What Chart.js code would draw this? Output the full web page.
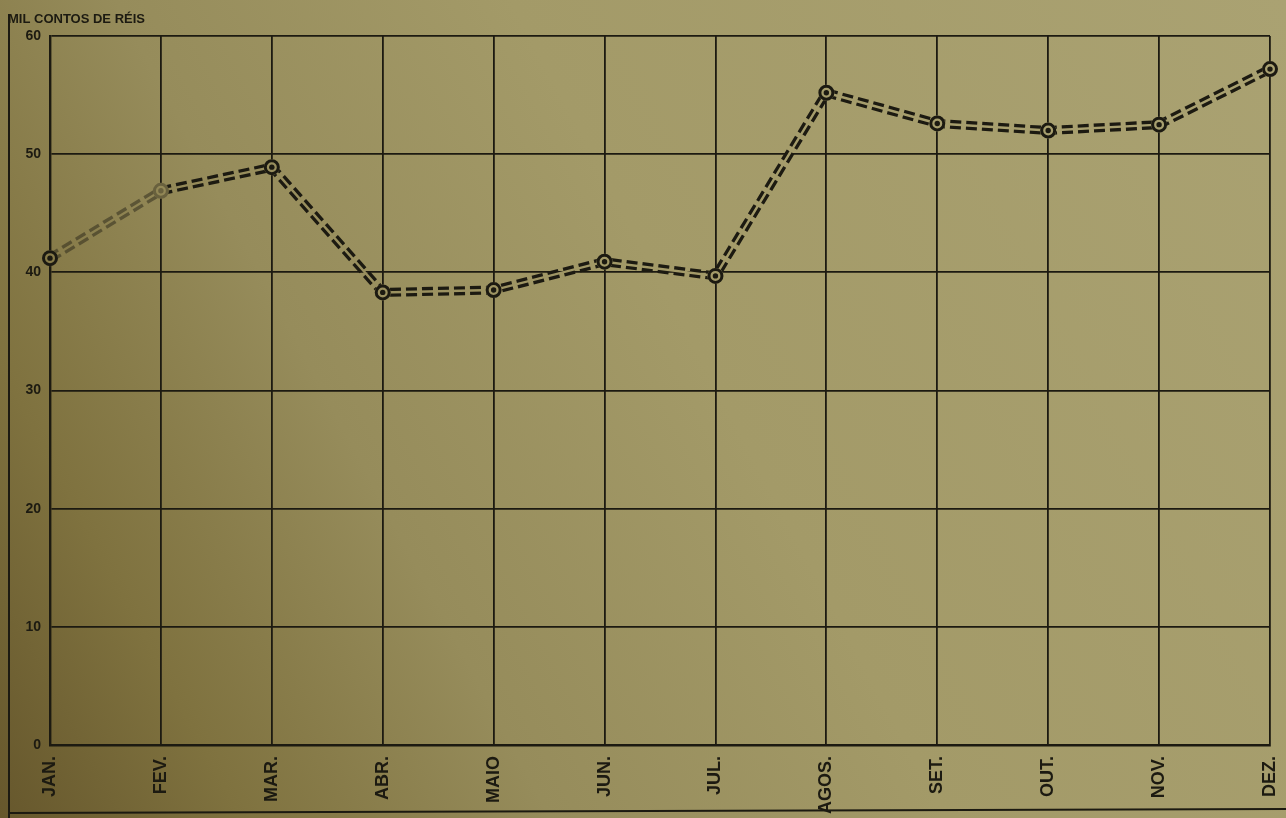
<!DOCTYPE html>
<html>
<head>
<meta charset="utf-8">
<script src="https://cdn.jsdelivr.net/npm/chart.js@4/dist/chart.umd.min.js"></script>
<style>
  html, body { margin: 0; padding: 0; }
  body {
    width: 1286px;
    height: 818px;
    overflow: hidden;
    background: linear-gradient(62deg, #66572c 0%, #7f723f 14%, #968c5b 32%, #a39a68 55%, #aaa272 100%);
  }
  canvas { display: block; }
</style>
</head>
<body>
<canvas id="chart" width="1286" height="818"></canvas>
<script>
// receita mensal, em mil contos de réis
const meses = ["JAN.", "FEV.", "MAR.", "ABR.", "MAIO", "JUN.", "JUL.", "AGOS.", "SET.", "OUT.", "NOV.", "DEZ."];
const receita = [41.2, 46.9, 48.9, 38.3, 38.5, 40.9, 39.7, 55.2, 52.6, 52.0, 52.5, 57.2];
const escalaY = { min: 0, max: 60, passo: 10 };
const unidade = "MIL CONTOS DE RÉIS";

const ink = "#1c1a11";
const faded = "rgba(28,26,17,0.45)";
const fontFamily = "'Liberation Sans', Arial, sans-serif";

// the double line: a thick dashed stroke, then a thin solid stroke that
// erases its middle, then the ringed markers on top
const doubleLine = {
  id: "doubleLine",
  beforeDatasetDraw(chart, args) {
    if (chart.data.datasets[args.index].cut) {
      chart.ctx.save();
      chart.ctx.globalCompositeOperation = "destination-out";
    }
  },
  afterDatasetDraw(chart, args) {
    if (chart.data.datasets[args.index].cut) chart.ctx.restore();
  },
  afterDatasetsDraw(chart) {
    const ctx = chart.ctx;
    const meta = chart.getDatasetMeta(0);
    meta.data.forEach((pt, i) => {
      ctx.save();
      ctx.globalCompositeOperation = "destination-out";
      ctx.beginPath();
      ctx.arc(pt.x, pt.y, 8, 0, Math.PI * 2);
      ctx.fill();
      ctx.restore();

      ctx.save();
      ctx.globalAlpha = i === 1 ? 0.35 : 1;
      ctx.strokeStyle = ink;
      ctx.fillStyle = ink;
      ctx.lineWidth = 3;
      ctx.beginPath();
      ctx.arc(pt.x, pt.y, 6.5, 0, Math.PI * 2);
      ctx.stroke();
      ctx.beginPath();
      ctx.arc(pt.x, pt.y, 2.7, 0, Math.PI * 2);
      ctx.fill();
      ctx.restore();
    });
  }
};

// unit label and the frame lines around the sheet
const sheet = {
  id: "sheet",
  afterDraw(chart) {
    const ctx = chart.ctx;
    ctx.save();
    ctx.fillStyle = ink;
    ctx.font = "bold 13px " + fontFamily;
    ctx.textBaseline = "middle";
    ctx.fillText(unidade, 8, 19);
    ctx.strokeStyle = ink;
    ctx.lineWidth = 2;
    ctx.beginPath();
    ctx.moveTo(9, 14);
    ctx.lineTo(9, 818);
    ctx.moveTo(9, 813);
    ctx.lineTo(1286, 809);
    ctx.stroke();
    ctx.restore();
  }
};

const fadeFirst = ctx => ctx.p0DataIndex === 0 ? faded : undefined;

new Chart(document.getElementById("chart"), {
  type: "line",
  data: {
    labels: meses,
    datasets: [
      {
        data: receita,
        borderColor: ink,
        borderWidth: 9,
        borderDash: [11, 5],
        borderCapStyle: "butt",
        borderJoinStyle: "round",
        pointRadius: 0,
        tension: 0,
        order: 2,
        segment: { borderColor: fadeFirst }
      },
      {
        data: receita,
        cut: true,
        borderColor: "#000",
        borderWidth: 2.4,
        pointRadius: 0,
        tension: 0,
        order: 1
      }
    ]
  },
  options: {
    responsive: false,
    animation: false,
    layout: { padding: { top: 36, right: 16, left: 0, bottom: 0 } },
    plugins: {
      legend: { display: false },
      tooltip: { enabled: false },
      title: { display: false }
    },
    scales: {
      x: {
        offset: false,
        afterFit: s => { s.height = 73; s.paddingLeft = 0; s.paddingRight = 0; },
        grid: { color: ink, lineWidth: 1.8, drawTicks: false, offset: false },
        border: { color: ink, width: 2.4 },
        ticks: {
          color: ink,
          font: { family: fontFamily, weight: "bold", size: 18 },
          minRotation: 90,
          maxRotation: 90,
          autoSkip: false,
          padding: 11
        }
      },
      y: {
        min: escalaY.min,
        max: escalaY.max,
        afterFit: s => { s.width = 50; },
        grid: { color: ink, lineWidth: 1.8, drawTicks: false },
        border: { color: ink, width: 2.4 },
        ticks: {
          stepSize: escalaY.passo,
          color: ink,
          font: { family: fontFamily, weight: "bold", size: 14 },
          padding: 9
        }
      }
    }
  },
  plugins: [doubleLine, sheet]
});
</script>
</body>
</html>
